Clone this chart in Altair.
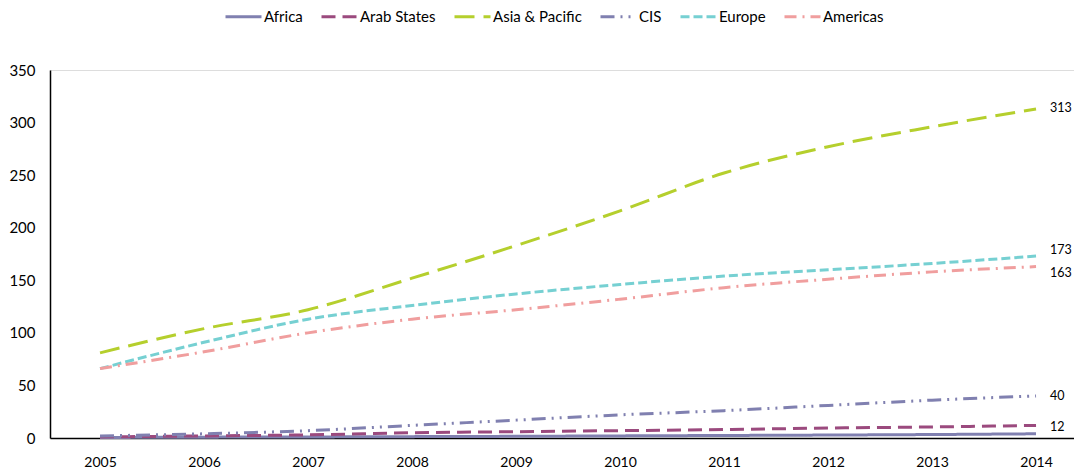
import altair as alt
import pandas as pd

years = [2005, 2006, 2007, 2008, 2009, 2010, 2011, 2012, 2013, 2014]
series_names = ["Africa", "Arab States", "Asia & Pacific", "CIS", "Europe", "Americas"]
africa = [0.5, 0.8, 1.0, 1.3, 1.6, 2.0, 2.4, 2.8, 3.3, 4.0]
arab_states = [1, 2, 3, 5, 6, 7, 8, 9.5, 10.5, 12]
asia_pacific = [81, 104, 122, 152, 183, 216, 252, 277, 296, 313]
cis = [2, 4, 7, 12, 17, 22, 26, 31, 36, 40]
europe = [66, 91, 113, 126, 137, 146, 154, 160, 166, 173]
americas = [66, 82, 100, 113, 122, 132, 143, 151, 158, 163]
end_labels = ["", "12", "313", "40", "173", "163"]

colors = ["#8080b0", "#9b4a7e", "#b5cf2d", "#8080b0", "#76d0d2", "#f09e9e"]
dashes = [[1, 0], [14, 7], [20, 9], [14, 6, 2, 6, 2, 6], [9, 4], [12, 6, 2, 6]]
label_dy = {"": 0, "12": 2, "313": -1, "40": 0, "173": -6, "163": 6}

vals = [africa, arab_states, asia_pacific, cis, europe, americas]
rows = []
for name, v in zip(series_names, vals):
    for yr, val in zip(years, v):
        rows.append({"year": yr, "value": val, "series": name})
df = pd.DataFrame(rows)

FONT = "Lato"

x = alt.X("year:Q", scale=alt.Scale(domain=[2004.519, 2014.365], nice=False, zero=False),
          axis=alt.Axis(values=years, format="d", title=None, grid=False, ticks=False,
                        labelFontSize=14, labelPadding=17, labelColor="#000",
                        domainColor="#000", domainWidth=1.5, labelFont=FONT))
y = alt.Y("value:Q", scale=alt.Scale(domain=[0, 350], nice=False),
          axis=alt.Axis(values=[0, 50, 100, 150, 200, 250, 300, 350], title=None, grid=False,
                        ticks=False, labelFontSize=15, labelPadding=15, labelColor="#000",
                        domainColor="#000", domainWidth=1.5, labelFont=FONT))

leg = dict(title=None, orient="none", legendX=174, legendY=-73,
           direction="horizontal", columns=6, symbolType="stroke",
           symbolStrokeWidth=3, symbolSize=1296, labelFontSize=15,
           labelFont=FONT, columnPadding=12, labelColor="#000", labelOffset=1)

lines = alt.Chart(df).mark_line(strokeWidth=3, interpolate="monotone").encode(
    x=x, y=y,
    color=alt.Color("series:N", sort=series_names,
                    scale=alt.Scale(domain=series_names, range=colors),
                    legend=alt.Legend(**leg)),
    strokeDash=alt.StrokeDash("series:N", sort=series_names,
                              scale=alt.Scale(domain=series_names, range=dashes),
                              legend=alt.Legend(**leg)),
    detail="series:N",
)

layers = [lines]
for name, v, lbl in zip(series_names, vals, end_labels):
    if not lbl:
        continue
    d = pd.DataFrame({"year": [years[-1]], "value": [v[-1]], "label": [lbl]})
    layers.append(
        alt.Chart(d).mark_text(align="left", dx=14, dy=label_dy[lbl], fontSize=12.5,
                               font=FONT, color="#000").encode(
            x=alt.X("year:Q"), y=alt.Y("value:Q"), text="label:N")
    )

chart = alt.layer(*layers).properties(
    width=1024, height=368,
    autosize=alt.AutoSizeParams(type="none"),
    padding={"left": 42, "top": 62, "right": 0, "bottom": 34},
).configure_view(stroke=None).configure(background="white")

chart.save("out.html", embed_options={"renderer": "svg", "actions": False})
